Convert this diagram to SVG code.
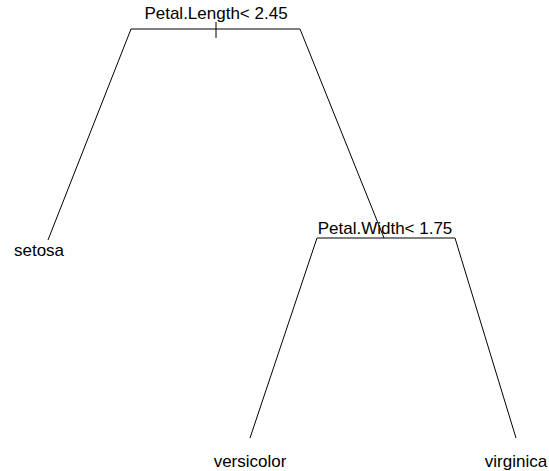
<svg xmlns="http://www.w3.org/2000/svg" width="549" height="471" viewBox="0 0 549 471">
  <style>
    .lbl { font-family: "Liberation Sans", Arial, sans-serif; font-size: 17px; fill: #000; text-anchor: middle; }
    .br { fill: none; stroke: #000; stroke-width: 1; }
  </style>
  <rect width="549" height="471" fill="#fff"/>
  <!-- tree branches -->
  <g id="connectors">
    <polyline class="br" points="48,240 131,29 300,29 384,238"/>
    <line class="br" x1="216" y1="22" x2="216" y2="38"/>
    <polyline class="br" points="250,438 317,238 455,238 516,438"/>
  </g>
  <g id="split-petal-length">
    <text class="lbl" x="216" y="19">Petal.Length&lt; 2.45</text>
  </g>
  <g id="split-petal-width">
    <text class="lbl" x="385" y="234">Petal.Width&lt; 1.75</text>
  </g>
  <g id="leaf-setosa">
    <text class="lbl" x="39" y="256">setosa</text>
  </g>
  <g id="leaf-versicolor">
    <text class="lbl" x="250" y="467">versicolor</text>
  </g>
  <g id="leaf-virginica">
    <text class="lbl" x="516" y="467">virginica</text>
  </g>
</svg>
